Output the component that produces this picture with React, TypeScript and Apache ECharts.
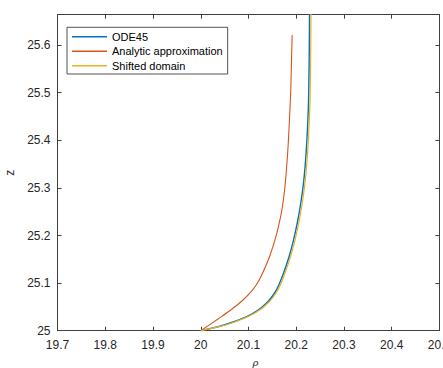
import React, { useEffect, useRef } from "react";
import * as echarts from "echarts";

const xTicks = [19.7, 19.8, 19.9, 20, 20.1, 20.2, 20.3, 20.4, 20.5];
const yTicks = [25, 25.1, 25.2, 25.3, 25.4, 25.5, 25.6];

const odeX = [20.0, 20.0361, 20.0648, 20.0963, 20.1203, 20.14, 20.1547, 20.1635, 20.1733, 20.1849, 20.1943, 20.2034, 20.2088, 20.2143, 20.2185, 20.2223, 20.2252, 20.2262, 20.2273, 20.2279];
const odeY = [25.0, 25.0084, 25.0172, 25.0298, 25.0435, 25.0603, 25.0792, 25.096, 25.1206, 25.1555, 25.1905, 25.2326, 25.2641, 25.3025, 25.3445, 25.4006, 25.4637, 25.5057, 25.5897, 25.6948];

const anaX = [20.0, 20.0361, 20.0621, 20.0886, 20.1056, 20.1161, 20.1259, 20.144, 20.1574, 20.1673, 20.1715, 20.1763, 20.1815, 20.1847, 20.187, 20.1885, 20.1914];
const anaY = [25.0, 25.0246, 25.0429, 25.0645, 25.0819, 25.096, 25.1134, 25.1555, 25.1975, 25.2395, 25.2641, 25.3025, 25.3655, 25.4216, 25.4706, 25.5057, 25.6212];

const shiftX = [20.0, 20.0392, 20.0679, 20.0994, 20.1234, 20.1431, 20.1578, 20.1666, 20.1764, 20.188, 20.1974, 20.2065, 20.2119, 20.2174, 20.2216, 20.2254, 20.2283, 20.2293, 20.2304, 20.231];
const shiftY = [25.0, 25.0084, 25.0172, 25.0298, 25.0435, 25.0603, 25.0792, 25.096, 25.1206, 25.1555, 25.1905, 25.2326, 25.2641, 25.3025, 25.3445, 25.4006, 25.4637, 25.5057, 25.5897, 25.6948];

const FONT = "'Liberation Sans', Arial, Helvetica, sans-serif";
const TXT = "#262626";
const AX = "#404040";

const zip = (xs: number[], ys: number[]) => xs.map((x, i) => [x, ys[i]]);
const fmt = (v: number) => String(Number(v.toFixed(1)));

export default function App() {
  const ref = useRef<HTMLDivElement>(null);
  useEffect(() => {
    if (!ref.current) return;
    const chart = echarts.init(ref.current, undefined, { renderer: "svg" });
    const axisCommon = {
      type: "value" as const,
      axisLine: { show: true, onZero: false, lineStyle: { color: AX, width: 1 } },
      axisTick: { show: true, inside: true, length: 4, lineStyle: { color: AX, width: 1 } },
      splitLine: { show: false },
    };
    const lineCommon = {
      type: "line" as const,
      smooth: 0.35,
      showSymbol: false,
      clip: true,
    };
    chart.setOption({
      animation: false,
      backgroundColor: "#fff",
      grid: { left: 57.5, top: 14.7, right: 3.5, bottom: 37.3, containLabel: false, outerBoundsMode: "none" },
      xAxis: [
        {
          ...axisCommon,
          position: "bottom",
          min: 19.7,
          max: 20.5,
          interval: 0.1,
          axisTick: { ...axisCommon.axisTick, customValues: xTicks },
          axisLabel: { customValues: xTicks, formatter: fmt, color: TXT, fontSize: 12, fontFamily: FONT, margin: 8 },
          name: "ρ",
          nameLocation: "middle",
          nameGap: 27,
          nameTextStyle: { fontStyle: "italic", fontFamily: "'DejaVu Serif', serif", fontSize: 10, color: TXT, padding: [0, 0, 0, 14] },
        },
        {
          ...axisCommon,
          position: "top",
          min: 19.7,
          max: 20.5,
          axisTick: { ...axisCommon.axisTick, customValues: xTicks },
          axisLabel: { show: false },
        },
      ],
      yAxis: [
        {
          ...axisCommon,
          position: "left",
          min: 25,
          max: 25.664,
          axisTick: { ...axisCommon.axisTick, customValues: yTicks },
          axisLabel: { customValues: yTicks, formatter: fmt, color: TXT, fontSize: 12, fontFamily: FONT, margin: 7 },
          name: "z",
          nameLocation: "middle",
          nameGap: 30,
          nameRotate: 90,
          nameTextStyle: { fontFamily: FONT, fontSize: 12, color: TXT },
        },
        {
          ...axisCommon,
          position: "right",
          min: 25,
          max: 25.664,
          axisTick: { ...axisCommon.axisTick, customValues: yTicks },
          axisLabel: { show: false },
        },
      ],
      legend: {
        orient: "vertical",
        left: 67,
        top: 27.3,
        padding: [3.4, 5, 2.3, 5],
        itemGap: 2.5,
        itemWidth: 35,
        itemHeight: 1.5,
        icon: "rect",
        backgroundColor: "#fff",
        borderColor: TXT,
        borderWidth: 0.8,
        borderRadius: 0,
        textStyle: { fontFamily: FONT, fontSize: 11, color: "#000", lineHeight: 12 },
        data: ["ODE45", "Analytic approximation", "Shifted domain"],
      },
      series: [
        {
          ...lineCommon,
          name: "ODE45",
          data: zip(odeX, odeY),
          color: "#0072BD",
          lineStyle: { width: 1.4, color: "#0072BD" },
        },
        {
          ...lineCommon,
          name: "Analytic approximation",
          data: zip(anaX, anaY),
          color: "#D95319",
          lineStyle: { width: 1.1, color: "#D95319" },
        },
        {
          ...lineCommon,
          name: "Shifted domain",
          data: zip(shiftX, shiftY),
          color: "#EDB120",
          lineStyle: { width: 1.2, color: "#EDB120" },
        },
      ],
    });
    return () => chart.dispose();
  }, []);
  return (
    <div
      ref={ref}
      style={{ position: "fixed", left: 0, top: 0, width: 443, height: 368, background: "#fff" }}
    />
  );
}
